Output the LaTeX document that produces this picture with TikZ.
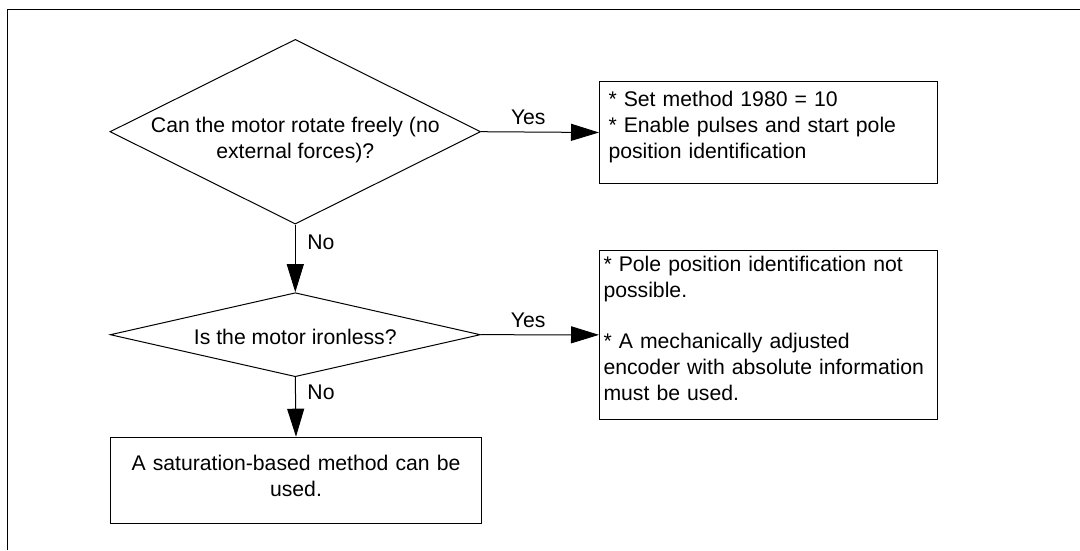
\documentclass[tikz,border=0pt]{standalone}
\usepackage{fontspec}
\setmainfont{Liberation Sans}
\usepackage{tikz}
\usetikzlibrary{shapes.geometric, arrows.meta}

\tikzset{
  decision/.style={draw, diamond, inner sep=0pt},
  box/.style={draw, rectangle, anchor=north west, align=left, text height=16pt},
  arr/.style={-{Triangle[length=28pt, width=17pt]}},
  lbl/.style={inner sep=7pt}
}

\begin{document}
\begin{tikzpicture}[x=1pt, y=-1pt, line width=1pt, font=\fontsize{21.2}{25.8}\selectfont]

\useasboundingbox (0,0) rectangle (1080,550);

\draw (1080,9) -- (7,9) -- (7,550);

\node[decision, minimum width=370.7pt, minimum height=184.7pt] (q1) at (295.3,131.7) {}; % free rotation
\node[align=center] (q1txt) at (295.3,140) {Can the motor rotate freely (no\\external forces)?};

\node[decision, minimum width=370.2pt, minimum height=84pt] (q2) at (295.3,334.7) {}; % ironless
\node (q2txt) at (295.3,337) {Is the motor ironless?};

\node[box, text width=320pt, inner xsep=9pt, inner ysep=8.7pt, text depth=68pt] (a1) at (599,81.3)
  {* Set method 1980 = 10\\{}* Enable pulses and start pole\\position identification};

\node[box, text width=330pt, inner xsep=4pt, inner ysep=5pt, text depth=142.7pt] (a2) at (599,250)
  {* Pole position identification not\\possible.\\[25.8pt]{}* A mechanically adjusted\\encoder with absolute information\\must be used.};

\node[box, align=center, text width=361pt, inner xsep=5pt, inner ysep=17.6pt, text depth=35.1pt] (a3) at (110,436.7)
  {A saturation-based method can be\\used.};

\draw[arr] (q1.east) -- node[lbl, above, pos=0.4] (yes1) {Yes} (a1.west);
\draw[arr] (q1.south) -- node[lbl, right, pos=0.26, inner xsep=11.5pt] (no1) {No} (q2.north);
\draw[arr] (q2.east) -- node[lbl, above, pos=0.4] (yes2) {Yes} (a2.west);
\draw[arr] (q2.south) -- node[lbl, right, pos=0.26, inner xsep=11.5pt] (no2) {No} (a3.north);

\end{tikzpicture}
\end{document}
